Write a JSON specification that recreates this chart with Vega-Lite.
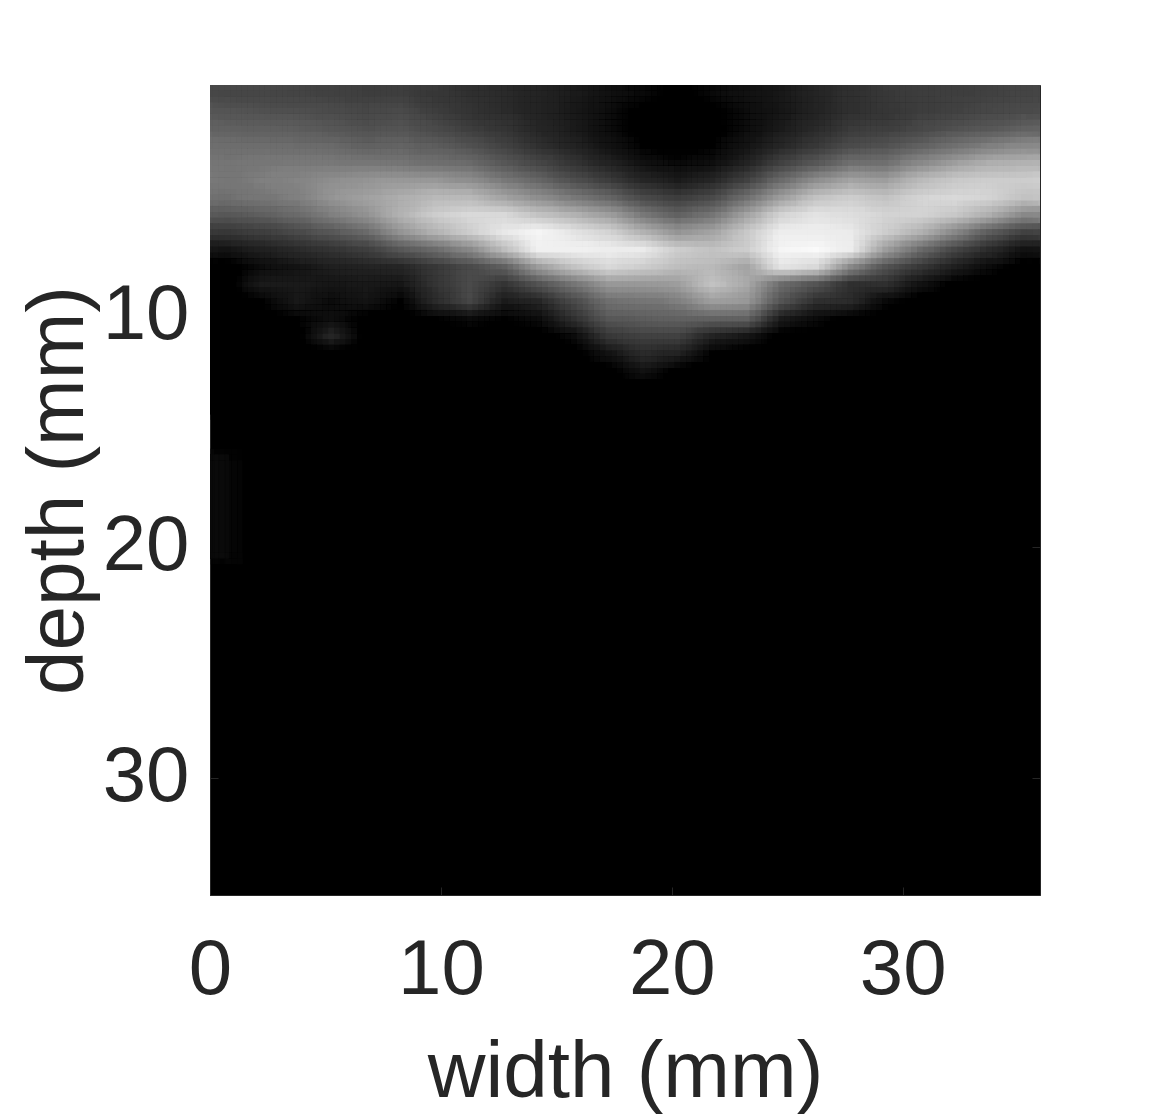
{"$schema":"https://vega.github.io/schema/vega-lite/v6.json","width":830,"height":810,"autosize":"none","padding":{"left":210,"top":85,"right":110,"bottom":219},"background":"white",
"config":{"view":{"fill":"#000000","stroke":"#262626"},"axis":{"labelFont":"Liberation Sans","titleFont":"Liberation Sans","labelFontSize":78,"titleFontSize":80,"labelColor":"#262626","titleColor":"#262626","titleFontWeight":"normal","tickColor":"#262626","domainColor":"#262626","grid":false,"tickSize":-8,"labelFlush":false,"labelOverlap":false,"zindex":1}},
"data":{"values":[
{"x":0,"x2":1.5,"y":0,"y2":0.75,"v":80},{"x":0,"x2":1.5,"y":0.75,"y2":1.5,"v":95},{"x":0,"x2":1.5,"y":1.5,"y2":2.25,"v":110},{"x":0,"x2":1.5,"y":2.25,"y2":3,"v":122},{"x":0,"x2":1.5,"y":3,"y2":3.75,"v":130},{"x":0,"x2":1.5,"y":3.75,"y2":4.5,"v":132},{"x":0,"x2":1.5,"y":4.5,"y2":5.25,"v":125},{"x":0,"x2":1.5,"y":5.25,"y2":6,"v":100},{"x":0,"x2":1.5,"y":6,"y2":6.75,"v":65},{"x":0,"x2":1.5,"y":6.75,"y2":7.5,"v":22},{"x":0,"x2":1.5,"y":7.5,"y2":14.25,"v":0},
{"x":1.5,"x2":3,"y":0,"y2":0.75,"v":80},{"x":1.5,"x2":3,"y":0.75,"y2":1.5,"v":92},{"x":1.5,"x2":3,"y":1.5,"y2":2.25,"v":108},{"x":1.5,"x2":3,"y":2.25,"y2":3,"v":122},{"x":1.5,"x2":3,"y":3,"y2":3.75,"v":132},{"x":1.5,"x2":3,"y":3.75,"y2":4.5,"v":138},{"x":1.5,"x2":3,"y":4.5,"y2":5.25,"v":132},{"x":1.5,"x2":3,"y":5.25,"y2":6,"v":108},{"x":1.5,"x2":3,"y":6,"y2":6.75,"v":72},{"x":1.5,"x2":3,"y":6.75,"y2":7.5,"v":38},{"x":1.5,"x2":3,"y":7.5,"y2":8.25,"v":12},{"x":1.5,"x2":3,"y":8.25,"y2":9,"v":30},{"x":1.5,"x2":3,"y":9,"y2":9.75,"v":5},{"x":1.5,"x2":3,"y":9.75,"y2":14.25,"v":0},
{"x":3,"x2":4.5,"y":0,"y2":0.75,"v":78},{"x":3,"x2":4.5,"y":0.75,"y2":1.5,"v":90},{"x":3,"x2":4.5,"y":1.5,"y2":2.25,"v":105},{"x":3,"x2":4.5,"y":2.25,"y2":3,"v":120},{"x":3,"x2":4.5,"y":3,"y2":3.75,"v":135},{"x":3,"x2":4.5,"y":3.75,"y2":4.5,"v":145},{"x":3,"x2":4.5,"y":4.5,"y2":5.25,"v":140},{"x":3,"x2":4.5,"y":5.25,"y2":6,"v":118},{"x":3,"x2":4.5,"y":6,"y2":6.75,"v":85},{"x":3,"x2":4.5,"y":6.75,"y2":7.5,"v":48},{"x":3,"x2":4.5,"y":7.5,"y2":8.25,"v":22},{"x":3,"x2":4.5,"y":8.25,"y2":9,"v":30},{"x":3,"x2":4.5,"y":9,"y2":9.75,"v":28},{"x":3,"x2":4.5,"y":9.75,"y2":10.5,"v":5},{"x":3,"x2":4.5,"y":10.5,"y2":14.25,"v":0},
{"x":4.5,"x2":6,"y":0,"y2":0.75,"v":75},{"x":4.5,"x2":6,"y":0.75,"y2":1.5,"v":88},{"x":4.5,"x2":6,"y":1.5,"y2":2.25,"v":100},{"x":4.5,"x2":6,"y":2.25,"y2":3,"v":118},{"x":4.5,"x2":6,"y":3,"y2":3.75,"v":135},{"x":4.5,"x2":6,"y":3.75,"y2":4.5,"v":155},{"x":4.5,"x2":6,"y":4.5,"y2":5.25,"v":160},{"x":4.5,"x2":6,"y":5.25,"y2":6,"v":140},{"x":4.5,"x2":6,"y":6,"y2":6.75,"v":100},{"x":4.5,"x2":6,"y":6.75,"y2":7.5,"v":60},{"x":4.5,"x2":6,"y":7.5,"y2":8.25,"v":35},{"x":4.5,"x2":6,"y":8.25,"y2":9,"v":25},{"x":4.5,"x2":6,"y":9,"y2":9.75,"v":10},{"x":4.5,"x2":6,"y":9.75,"y2":10.5,"v":15},{"x":4.5,"x2":6,"y":10.5,"y2":11.25,"v":45},{"x":4.5,"x2":6,"y":11.25,"y2":14.25,"v":0},
{"x":6,"x2":7.5,"y":0,"y2":0.75,"v":70},{"x":6,"x2":7.5,"y":0.75,"y2":1.5,"v":80},{"x":6,"x2":7.5,"y":1.5,"y2":2.25,"v":92},{"x":6,"x2":7.5,"y":2.25,"y2":3,"v":110},{"x":6,"x2":7.5,"y":3,"y2":3.75,"v":132},{"x":6,"x2":7.5,"y":3.75,"y2":4.5,"v":160},{"x":6,"x2":7.5,"y":4.5,"y2":5.25,"v":172},{"x":6,"x2":7.5,"y":5.25,"y2":6,"v":158},{"x":6,"x2":7.5,"y":6,"y2":6.75,"v":118},{"x":6,"x2":7.5,"y":6.75,"y2":7.5,"v":72},{"x":6,"x2":7.5,"y":7.5,"y2":8.25,"v":40},{"x":6,"x2":7.5,"y":8.25,"y2":9,"v":28},{"x":6,"x2":7.5,"y":9,"y2":9.75,"v":22},{"x":6,"x2":7.5,"y":9.75,"y2":10.5,"v":3},{"x":6,"x2":7.5,"y":10.5,"y2":14.25,"v":0},
{"x":7.5,"x2":9,"y":0,"y2":0.75,"v":72},{"x":7.5,"x2":9,"y":0.75,"y2":1.5,"v":85},{"x":7.5,"x2":9,"y":1.5,"y2":2.25,"v":95},{"x":7.5,"x2":9,"y":2.25,"y2":3,"v":112},{"x":7.5,"x2":9,"y":3,"y2":3.75,"v":130},{"x":7.5,"x2":9,"y":3.75,"y2":4.5,"v":165},{"x":7.5,"x2":9,"y":4.5,"y2":5.25,"v":185},{"x":7.5,"x2":9,"y":5.25,"y2":6,"v":190},{"x":7.5,"x2":9,"y":6,"y2":6.75,"v":160},{"x":7.5,"x2":9,"y":6.75,"y2":7.5,"v":100},{"x":7.5,"x2":9,"y":7.5,"y2":8.25,"v":45},{"x":7.5,"x2":9,"y":8.25,"y2":9,"v":25},{"x":7.5,"x2":9,"y":9,"y2":9.75,"v":5},{"x":7.5,"x2":9,"y":9.75,"y2":14.25,"v":0},
{"x":9,"x2":10.5,"y":0,"y2":0.75,"v":65},{"x":9,"x2":10.5,"y":0.75,"y2":1.5,"v":70},{"x":9,"x2":10.5,"y":1.5,"y2":2.25,"v":85},{"x":9,"x2":10.5,"y":2.25,"y2":3,"v":105},{"x":9,"x2":10.5,"y":3,"y2":3.75,"v":125},{"x":9,"x2":10.5,"y":3.75,"y2":4.5,"v":165},{"x":9,"x2":10.5,"y":4.5,"y2":5.25,"v":195},{"x":9,"x2":10.5,"y":5.25,"y2":6,"v":215},{"x":9,"x2":10.5,"y":6,"y2":6.75,"v":190},{"x":9,"x2":10.5,"y":6.75,"y2":7.5,"v":120},{"x":9,"x2":10.5,"y":7.5,"y2":8.25,"v":65},{"x":9,"x2":10.5,"y":8.25,"y2":9,"v":60},{"x":9,"x2":10.5,"y":9,"y2":9.75,"v":50},{"x":9,"x2":10.5,"y":9.75,"y2":10.5,"v":5},{"x":9,"x2":10.5,"y":10.5,"y2":14.25,"v":0},
{"x":10.5,"x2":12,"y":0,"y2":0.75,"v":55},{"x":10.5,"x2":12,"y":0.75,"y2":1.5,"v":60},{"x":10.5,"x2":12,"y":1.5,"y2":2.25,"v":72},{"x":10.5,"x2":12,"y":2.25,"y2":3,"v":92},{"x":10.5,"x2":12,"y":3,"y2":3.75,"v":118},{"x":10.5,"x2":12,"y":3.75,"y2":4.5,"v":155},{"x":10.5,"x2":12,"y":4.5,"y2":5.25,"v":195},{"x":10.5,"x2":12,"y":5.25,"y2":6,"v":225},{"x":10.5,"x2":12,"y":6,"y2":6.75,"v":215},{"x":10.5,"x2":12,"y":6.75,"y2":7.5,"v":150},{"x":10.5,"x2":12,"y":7.5,"y2":8.25,"v":85},{"x":10.5,"x2":12,"y":8.25,"y2":9,"v":85},{"x":10.5,"x2":12,"y":9,"y2":9.75,"v":80},{"x":10.5,"x2":12,"y":9.75,"y2":10.5,"v":10},{"x":10.5,"x2":12,"y":10.5,"y2":14.25,"v":0},
{"x":12,"x2":13.5,"y":0,"y2":0.75,"v":48},{"x":12,"x2":13.5,"y":0.75,"y2":1.5,"v":50},{"x":12,"x2":13.5,"y":1.5,"y2":2.25,"v":60},{"x":12,"x2":13.5,"y":2.25,"y2":3,"v":75},{"x":12,"x2":13.5,"y":3,"y2":3.75,"v":100},{"x":12,"x2":13.5,"y":3.75,"y2":4.5,"v":135},{"x":12,"x2":13.5,"y":4.5,"y2":5.25,"v":175},{"x":12,"x2":13.5,"y":5.25,"y2":6,"v":225},{"x":12,"x2":13.5,"y":6,"y2":6.75,"v":238},{"x":12,"x2":13.5,"y":6.75,"y2":7.5,"v":200},{"x":12,"x2":13.5,"y":7.5,"y2":8.25,"v":110},{"x":12,"x2":13.5,"y":8.25,"y2":9,"v":60},{"x":12,"x2":13.5,"y":9,"y2":9.75,"v":30},{"x":12,"x2":13.5,"y":9.75,"y2":10.5,"v":5},{"x":12,"x2":13.5,"y":10.5,"y2":14.25,"v":0},
{"x":13.5,"x2":15,"y":0,"y2":0.75,"v":40},{"x":13.5,"x2":15,"y":0.75,"y2":1.5,"v":40},{"x":13.5,"x2":15,"y":1.5,"y2":2.25,"v":45},{"x":13.5,"x2":15,"y":2.25,"y2":3,"v":55},{"x":13.5,"x2":15,"y":3,"y2":3.75,"v":80},{"x":13.5,"x2":15,"y":3.75,"y2":4.5,"v":115},{"x":13.5,"x2":15,"y":4.5,"y2":5.25,"v":155},{"x":13.5,"x2":15,"y":5.25,"y2":6,"v":205},{"x":13.5,"x2":15,"y":6,"y2":6.75,"v":250},{"x":13.5,"x2":15,"y":6.75,"y2":7.5,"v":248},{"x":13.5,"x2":15,"y":7.5,"y2":8.25,"v":170},{"x":13.5,"x2":15,"y":8.25,"y2":9,"v":95},{"x":13.5,"x2":15,"y":9,"y2":9.75,"v":45},{"x":13.5,"x2":15,"y":9.75,"y2":10.5,"v":12},{"x":13.5,"x2":15,"y":10.5,"y2":14.25,"v":0},
{"x":15,"x2":16.5,"y":0,"y2":0.75,"v":30},{"x":15,"x2":16.5,"y":0.75,"y2":1.5,"v":28},{"x":15,"x2":16.5,"y":1.5,"y2":2.25,"v":30},{"x":15,"x2":16.5,"y":2.25,"y2":3,"v":40},{"x":15,"x2":16.5,"y":3,"y2":3.75,"v":60},{"x":15,"x2":16.5,"y":3.75,"y2":4.5,"v":90},{"x":15,"x2":16.5,"y":4.5,"y2":5.25,"v":135},{"x":15,"x2":16.5,"y":5.25,"y2":6,"v":190},{"x":15,"x2":16.5,"y":6,"y2":6.75,"v":235},{"x":15,"x2":16.5,"y":6.75,"y2":7.5,"v":248},{"x":15,"x2":16.5,"y":7.5,"y2":8.25,"v":205},{"x":15,"x2":16.5,"y":8.25,"y2":9,"v":130},{"x":15,"x2":16.5,"y":9,"y2":9.75,"v":85},{"x":15,"x2":16.5,"y":9.75,"y2":10.5,"v":55},{"x":15,"x2":16.5,"y":10.5,"y2":11.25,"v":10},{"x":15,"x2":16.5,"y":11.25,"y2":14.25,"v":0},
{"x":16.5,"x2":18,"y":0,"y2":0.75,"v":18},{"x":16.5,"x2":18,"y":0.75,"y2":1.5,"v":12},{"x":16.5,"x2":18,"y":1.5,"y2":2.25,"v":12},{"x":16.5,"x2":18,"y":2.25,"y2":3,"v":20},{"x":16.5,"x2":18,"y":3,"y2":3.75,"v":40},{"x":16.5,"x2":18,"y":3.75,"y2":4.5,"v":70},{"x":16.5,"x2":18,"y":4.5,"y2":5.25,"v":115},{"x":16.5,"x2":18,"y":5.25,"y2":6,"v":170},{"x":16.5,"x2":18,"y":6,"y2":6.75,"v":220},{"x":16.5,"x2":18,"y":6.75,"y2":7.5,"v":245},{"x":16.5,"x2":18,"y":7.5,"y2":8.25,"v":225},{"x":16.5,"x2":18,"y":8.25,"y2":9,"v":165},{"x":16.5,"x2":18,"y":9,"y2":9.75,"v":125},{"x":16.5,"x2":18,"y":9.75,"y2":10.5,"v":100},{"x":16.5,"x2":18,"y":10.5,"y2":11.25,"v":65},{"x":16.5,"x2":18,"y":11.25,"y2":12,"v":20},{"x":16.5,"x2":18,"y":12,"y2":12.75,"v":3},{"x":16.5,"x2":18,"y":12.75,"y2":14.25,"v":0},
{"x":18,"x2":19.5,"y":0,"y2":0.75,"v":8},{"x":18,"x2":19.5,"y":0.75,"y2":1.5,"v":3},{"x":18,"x2":19.5,"y":1.5,"y2":2.25,"v":2},{"x":18,"x2":19.5,"y":2.25,"y2":3,"v":5},{"x":18,"x2":19.5,"y":3,"y2":3.75,"v":18},{"x":18,"x2":19.5,"y":3.75,"y2":4.5,"v":45},{"x":18,"x2":19.5,"y":4.5,"y2":5.25,"v":85},{"x":18,"x2":19.5,"y":5.25,"y2":6,"v":135},{"x":18,"x2":19.5,"y":6,"y2":6.75,"v":190},{"x":18,"x2":19.5,"y":6.75,"y2":7.5,"v":240},{"x":18,"x2":19.5,"y":7.5,"y2":8.25,"v":215},{"x":18,"x2":19.5,"y":8.25,"y2":9,"v":165},{"x":18,"x2":19.5,"y":9,"y2":9.75,"v":130},{"x":18,"x2":19.5,"y":9.75,"y2":10.5,"v":105},{"x":18,"x2":19.5,"y":10.5,"y2":11.25,"v":75},{"x":18,"x2":19.5,"y":11.25,"y2":12,"v":50},{"x":18,"x2":19.5,"y":12,"y2":12.75,"v":20},{"x":18,"x2":19.5,"y":12.75,"y2":14.25,"v":0},
{"x":19.5,"x2":21,"y":0,"y2":0.75,"v":3},{"x":19.5,"x2":21,"y":0.75,"y2":3,"v":0},{"x":19.5,"x2":21,"y":3,"y2":3.75,"v":8},{"x":19.5,"x2":21,"y":3.75,"y2":4.5,"v":30},{"x":19.5,"x2":21,"y":4.5,"y2":5.25,"v":70},{"x":19.5,"x2":21,"y":5.25,"y2":6,"v":110},{"x":19.5,"x2":21,"y":6,"y2":6.75,"v":160},{"x":19.5,"x2":21,"y":6.75,"y2":7.5,"v":215},{"x":19.5,"x2":21,"y":7.5,"y2":8.25,"v":200},{"x":19.5,"x2":21,"y":8.25,"y2":9,"v":170},{"x":19.5,"x2":21,"y":9,"y2":9.75,"v":140},{"x":19.5,"x2":21,"y":9.75,"y2":10.5,"v":110},{"x":19.5,"x2":21,"y":10.5,"y2":11.25,"v":75},{"x":19.5,"x2":21,"y":11.25,"y2":12,"v":40},{"x":19.5,"x2":21,"y":12,"y2":12.75,"v":3},{"x":19.5,"x2":21,"y":12.75,"y2":14.25,"v":0},
{"x":21,"x2":22.5,"y":0,"y2":0.75,"v":8},{"x":21,"x2":22.5,"y":0.75,"y2":1.5,"v":3},{"x":21,"x2":22.5,"y":1.5,"y2":2.25,"v":2},{"x":21,"x2":22.5,"y":2.25,"y2":3,"v":5},{"x":21,"x2":22.5,"y":3,"y2":3.75,"v":15},{"x":21,"x2":22.5,"y":3.75,"y2":4.5,"v":45},{"x":21,"x2":22.5,"y":4.5,"y2":5.25,"v":85},{"x":21,"x2":22.5,"y":5.25,"y2":6,"v":130},{"x":21,"x2":22.5,"y":6,"y2":6.75,"v":175},{"x":21,"x2":22.5,"y":6.75,"y2":7.5,"v":205},{"x":21,"x2":22.5,"y":7.5,"y2":8.25,"v":195},{"x":21,"x2":22.5,"y":8.25,"y2":9,"v":205},{"x":21,"x2":22.5,"y":9,"y2":9.75,"v":170},{"x":21,"x2":22.5,"y":9.75,"y2":10.5,"v":110},{"x":21,"x2":22.5,"y":10.5,"y2":11.25,"v":40},{"x":21,"x2":22.5,"y":11.25,"y2":12,"v":5},{"x":21,"x2":22.5,"y":12,"y2":14.25,"v":0},
{"x":22.5,"x2":24,"y":0,"y2":0.75,"v":18},{"x":22.5,"x2":24,"y":0.75,"y2":1.5,"v":12},{"x":22.5,"x2":24,"y":1.5,"y2":2.25,"v":12},{"x":22.5,"x2":24,"y":2.25,"y2":3,"v":22},{"x":22.5,"x2":24,"y":3,"y2":3.75,"v":40},{"x":22.5,"x2":24,"y":3.75,"y2":4.5,"v":75},{"x":22.5,"x2":24,"y":4.5,"y2":5.25,"v":125},{"x":22.5,"x2":24,"y":5.25,"y2":6,"v":175},{"x":22.5,"x2":24,"y":6,"y2":6.75,"v":210},{"x":22.5,"x2":24,"y":6.75,"y2":7.5,"v":215},{"x":22.5,"x2":24,"y":7.5,"y2":8.25,"v":175},{"x":22.5,"x2":24,"y":8.25,"y2":9,"v":180},{"x":22.5,"x2":24,"y":9,"y2":9.75,"v":165},{"x":22.5,"x2":24,"y":9.75,"y2":10.5,"v":110},{"x":22.5,"x2":24,"y":10.5,"y2":11.25,"v":25},{"x":22.5,"x2":24,"y":11.25,"y2":14.25,"v":0},
{"x":24,"x2":25.5,"y":0,"y2":0.75,"v":28},{"x":24,"x2":25.5,"y":0.75,"y2":1.5,"v":25},{"x":24,"x2":25.5,"y":1.5,"y2":2.25,"v":30},{"x":24,"x2":25.5,"y":2.25,"y2":3,"v":45},{"x":24,"x2":25.5,"y":3,"y2":3.75,"v":75},{"x":24,"x2":25.5,"y":3.75,"y2":4.5,"v":120},{"x":24,"x2":25.5,"y":4.5,"y2":5.25,"v":170},{"x":24,"x2":25.5,"y":5.25,"y2":6,"v":220},{"x":24,"x2":25.5,"y":6,"y2":6.75,"v":245},{"x":24,"x2":25.5,"y":6.75,"y2":7.5,"v":250},{"x":24,"x2":25.5,"y":7.5,"y2":8.25,"v":235},{"x":24,"x2":25.5,"y":8.25,"y2":9,"v":120},{"x":24,"x2":25.5,"y":9,"y2":9.75,"v":95},{"x":24,"x2":25.5,"y":9.75,"y2":10.5,"v":30},{"x":24,"x2":25.5,"y":10.5,"y2":14.25,"v":0},
{"x":25.5,"x2":27,"y":0,"y2":0.75,"v":42},{"x":25.5,"x2":27,"y":0.75,"y2":1.5,"v":40},{"x":25.5,"x2":27,"y":1.5,"y2":2.25,"v":48},{"x":25.5,"x2":27,"y":2.25,"y2":3,"v":65},{"x":25.5,"x2":27,"y":3,"y2":3.75,"v":100},{"x":25.5,"x2":27,"y":3.75,"y2":4.5,"v":155},{"x":25.5,"x2":27,"y":4.5,"y2":5.25,"v":205},{"x":25.5,"x2":27,"y":5.25,"y2":6,"v":235},{"x":25.5,"x2":27,"y":6,"y2":6.75,"v":245},{"x":25.5,"x2":27,"y":6.75,"y2":7.5,"v":252},{"x":25.5,"x2":27,"y":7.5,"y2":8.25,"v":225},{"x":25.5,"x2":27,"y":8.25,"y2":9,"v":95},{"x":25.5,"x2":27,"y":9,"y2":9.75,"v":55},{"x":25.5,"x2":27,"y":9.75,"y2":10.5,"v":10},{"x":25.5,"x2":27,"y":10.5,"y2":14.25,"v":0},
{"x":27,"x2":28.5,"y":0,"y2":0.75,"v":55},{"x":27,"x2":28.5,"y":0.75,"y2":1.5,"v":55},{"x":27,"x2":28.5,"y":1.5,"y2":2.25,"v":68},{"x":27,"x2":28.5,"y":2.25,"y2":3,"v":88},{"x":27,"x2":28.5,"y":3,"y2":3.75,"v":125},{"x":27,"x2":28.5,"y":3.75,"y2":4.5,"v":175},{"x":27,"x2":28.5,"y":4.5,"y2":5.25,"v":215},{"x":27,"x2":28.5,"y":5.25,"y2":6,"v":230},{"x":27,"x2":28.5,"y":6,"y2":6.75,"v":240},{"x":27,"x2":28.5,"y":6.75,"y2":7.5,"v":245},{"x":27,"x2":28.5,"y":7.5,"y2":8.25,"v":150},{"x":27,"x2":28.5,"y":8.25,"y2":9,"v":55},{"x":27,"x2":28.5,"y":9,"y2":9.75,"v":50},{"x":27,"x2":28.5,"y":9.75,"y2":14.25,"v":0},
{"x":28.5,"x2":30,"y":0,"y2":0.75,"v":65},{"x":28.5,"x2":30,"y":0.75,"y2":1.5,"v":62},{"x":28.5,"x2":30,"y":1.5,"y2":2.25,"v":72},{"x":28.5,"x2":30,"y":2.25,"y2":3,"v":92},{"x":28.5,"x2":30,"y":3,"y2":3.75,"v":125},{"x":28.5,"x2":30,"y":3.75,"y2":4.5,"v":170},{"x":28.5,"x2":30,"y":4.5,"y2":5.25,"v":205},{"x":28.5,"x2":30,"y":5.25,"y2":6,"v":220},{"x":28.5,"x2":30,"y":6,"y2":6.75,"v":215},{"x":28.5,"x2":30,"y":6.75,"y2":7.5,"v":170},{"x":28.5,"x2":30,"y":7.5,"y2":8.25,"v":95},{"x":28.5,"x2":30,"y":8.25,"y2":9,"v":55},{"x":28.5,"x2":30,"y":9,"y2":9.75,"v":8},{"x":28.5,"x2":30,"y":9.75,"y2":14.25,"v":0},
{"x":30,"x2":31.5,"y":0,"y2":0.75,"v":70},{"x":30,"x2":31.5,"y":0.75,"y2":1.5,"v":70},{"x":30,"x2":31.5,"y":1.5,"y2":2.25,"v":82},{"x":30,"x2":31.5,"y":2.25,"y2":3,"v":110},{"x":30,"x2":31.5,"y":3,"y2":3.75,"v":150},{"x":30,"x2":31.5,"y":3.75,"y2":4.5,"v":195},{"x":30,"x2":31.5,"y":4.5,"y2":5.25,"v":220},{"x":30,"x2":31.5,"y":5.25,"y2":6,"v":220},{"x":30,"x2":31.5,"y":6,"y2":6.75,"v":190},{"x":30,"x2":31.5,"y":6.75,"y2":7.5,"v":120},{"x":30,"x2":31.5,"y":7.5,"y2":8.25,"v":65},{"x":30,"x2":31.5,"y":8.25,"y2":9,"v":20},{"x":30,"x2":31.5,"y":9,"y2":14.25,"v":0},
{"x":31.5,"x2":33,"y":0,"y2":0.75,"v":72},{"x":31.5,"x2":33,"y":0.75,"y2":1.5,"v":75},{"x":31.5,"x2":33,"y":1.5,"y2":2.25,"v":92},{"x":31.5,"x2":33,"y":2.25,"y2":3,"v":125},{"x":31.5,"x2":33,"y":3,"y2":3.75,"v":170},{"x":31.5,"x2":33,"y":3.75,"y2":4.5,"v":210},{"x":31.5,"x2":33,"y":4.5,"y2":5.25,"v":225},{"x":31.5,"x2":33,"y":5.25,"y2":6,"v":210},{"x":31.5,"x2":33,"y":6,"y2":6.75,"v":150},{"x":31.5,"x2":33,"y":6.75,"y2":7.5,"v":80},{"x":31.5,"x2":33,"y":7.5,"y2":8.25,"v":35},{"x":31.5,"x2":33,"y":8.25,"y2":9,"v":2},{"x":31.5,"x2":33,"y":9,"y2":14.25,"v":0},
{"x":33,"x2":34.5,"y":0,"y2":0.75,"v":75},{"x":33,"x2":34.5,"y":0.75,"y2":1.5,"v":80},{"x":33,"x2":34.5,"y":1.5,"y2":2.25,"v":100},{"x":33,"x2":34.5,"y":2.25,"y2":3,"v":140},{"x":33,"x2":34.5,"y":3,"y2":3.75,"v":185},{"x":33,"x2":34.5,"y":3.75,"y2":4.5,"v":215},{"x":33,"x2":34.5,"y":4.5,"y2":5.25,"v":220},{"x":33,"x2":34.5,"y":5.25,"y2":6,"v":185},{"x":33,"x2":34.5,"y":6,"y2":6.75,"v":105},{"x":33,"x2":34.5,"y":6.75,"y2":7.5,"v":50},{"x":33,"x2":34.5,"y":7.5,"y2":8.25,"v":10},{"x":33,"x2":34.5,"y":8.25,"y2":14.25,"v":0},
{"x":34.5,"x2":36,"y":0,"y2":0.75,"v":78},{"x":34.5,"x2":36,"y":0.75,"y2":1.5,"v":88},{"x":34.5,"x2":36,"y":1.5,"y2":2.25,"v":110},{"x":34.5,"x2":36,"y":2.25,"y2":3,"v":150},{"x":34.5,"x2":36,"y":3,"y2":3.75,"v":190},{"x":34.5,"x2":36,"y":3.75,"y2":4.5,"v":215},{"x":34.5,"x2":36,"y":4.5,"y2":5.25,"v":205},{"x":34.5,"x2":36,"y":5.25,"y2":6,"v":150},{"x":34.5,"x2":36,"y":6,"y2":6.75,"v":75},{"x":34.5,"x2":36,"y":6.75,"y2":7.5,"v":20},{"x":34.5,"x2":36,"y":7.5,"y2":14.25,"v":0},
{"x":0,"x2":0.8,"y":16,"y2":20.5,"v":8}
]},
"resolve":{"axis":{"x":"independent","y":"independent"}},
"layer":[
{"encoding":{
"x":{"field":"x","type":"quantitative","scale":{"domain":[0,35.95],"nice":false,"zero":false},"axis":{"orient":"bottom","values":[0,10,20,30],"title":"width (mm)","labelPadding":44,"titlePadding":24,"format":"d"}},
"x2":{"field":"x2"},
"y":{"field":"y","type":"quantitative","scale":{"domain":[0,35.08],"reverse":true,"nice":false,"zero":false},"axis":{"orient":"left","values":[10,20,30],"title":"depth (mm)","labelPadding":29,"titlePadding":3,"format":"d"}},
"y2":{"field":"y2"},
"color":{"field":"v","type":"quantitative","scale":{"domain":[0,255],"range":["#000000","#ffffff"]},"legend":null}
},
"layer":[
{"mark":{"type":"rect","clip":true,"strokeWidth":1},"encoding":{"stroke":{"field":"v","type":"quantitative","scale":{"domain":[0,255],"range":["#000000","#ffffff"]},"legend":null}}},
{"mark":{"type":"rect","clip":true,"opacity":0.5,"xOffset":-14.4,"x2Offset":-14.4,"yOffset":-5.8,"y2Offset":-5.8}},
{"mark":{"type":"rect","clip":true,"opacity":0.3333,"xOffset":14.4,"x2Offset":14.4,"yOffset":5.8,"y2Offset":5.8}},
{"mark":{"type":"rect","clip":true,"opacity":0.25,"xOffset":-8.6,"x2Offset":-8.6,"yOffset":5.8,"y2Offset":5.8}},
{"mark":{"type":"rect","clip":true,"opacity":0.2,"xOffset":8.6,"x2Offset":8.6,"yOffset":-5.8,"y2Offset":-5.8}},
{"mark":{"type":"rect","clip":true,"opacity":0.1667,"xOffset":-2.9,"x2Offset":-2.9,"yOffset":-5.8,"y2Offset":-5.8}},
{"mark":{"type":"rect","clip":true,"opacity":0.1429,"xOffset":2.9,"x2Offset":2.9,"yOffset":5.8,"y2Offset":5.8}},
{"mark":{"type":"rect","clip":true,"opacity":0.125,"xOffset":-14.4,"x2Offset":-14.4,"yOffset":0,"y2Offset":0}},
{"mark":{"type":"rect","clip":true,"opacity":0.1111,"xOffset":14.4,"x2Offset":14.4,"yOffset":0,"y2Offset":0}},
{"mark":{"type":"rect","clip":true,"opacity":0.1,"xOffset":-8.6,"x2Offset":-8.6,"yOffset":0,"y2Offset":0}},
{"mark":{"type":"rect","clip":true,"opacity":0.0909,"xOffset":8.6,"x2Offset":8.6,"yOffset":0,"y2Offset":0}},
{"mark":{"type":"rect","clip":true,"opacity":0.0833,"xOffset":-2.9,"x2Offset":-2.9,"yOffset":0,"y2Offset":0}},
{"mark":{"type":"rect","clip":true,"opacity":0.0769,"xOffset":2.9,"x2Offset":2.9,"yOffset":0,"y2Offset":0}},
{"mark":{"type":"rect","clip":true,"opacity":0.0714,"xOffset":-14.4,"x2Offset":-14.4,"yOffset":5.8,"y2Offset":5.8}},
{"mark":{"type":"rect","clip":true,"opacity":0.0667,"xOffset":14.4,"x2Offset":14.4,"yOffset":-5.8,"y2Offset":-5.8}},
{"mark":{"type":"rect","clip":true,"opacity":0.0625,"xOffset":-8.6,"x2Offset":-8.6,"yOffset":-5.8,"y2Offset":-5.8}},
{"mark":{"type":"rect","clip":true,"opacity":0.0588,"xOffset":8.6,"x2Offset":8.6,"yOffset":5.8,"y2Offset":5.8}},
{"mark":{"type":"rect","clip":true,"opacity":0.0556,"xOffset":-2.9,"x2Offset":-2.9,"yOffset":5.8,"y2Offset":5.8}},
{"mark":{"type":"rect","clip":true,"opacity":0.0526,"xOffset":2.9,"x2Offset":2.9,"yOffset":-5.8,"y2Offset":-5.8}}
]},
{"mark":{"type":"rect","opacity":0,"clip":true},"encoding":{
"x":{"field":"x","type":"quantitative","scale":{"domain":[0,35.95],"nice":false,"zero":false},"axis":{"orient":"top","values":[0,10,20,30],"title":null,"labels":false,"domain":false}},
"x2":{"field":"x2"},
"y":{"field":"y","type":"quantitative","scale":{"domain":[0,35.08],"reverse":true,"nice":false,"zero":false},"axis":{"orient":"right","values":[10,20,30],"title":null,"labels":false,"domain":false}},
"y2":{"field":"y2"}
}}
]}
